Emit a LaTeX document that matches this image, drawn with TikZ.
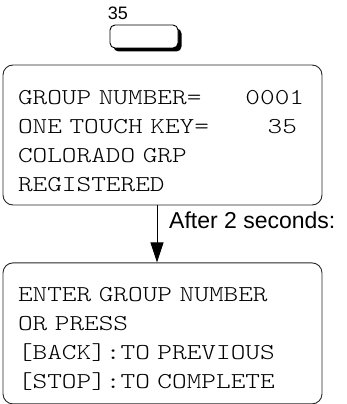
\documentclass[tikz,border=0pt]{standalone}
\usepackage{fontspec}
\usepackage{tikz}
\usetikzlibrary{arrows.meta,positioning,shadows}
\setmainfont{Liberation Sans}
\newfontfamily\lcdfont[FakeStretch=1.23]{lmmonolt10-regular.otf}
\newcommand\lcdsetup{\lcdfont\fontsize{22.7}{29}\selectfont
  \fontdimen2\font=\fontcharwd\font`0 \fontdimen3\font=0pt \fontdimen4\font=0pt
  \spaceskip=\fontcharwd\font`0 \xspaceskip=\spaceskip}
\newcommand\blanks[1]{\phantom{#1}}
\tikzset{
  lcd/.style    ={rectangle, rounded corners=10pt, draw=black!85, line width=0.9pt,
                  align=left, text width=289pt, minimum width=319pt, inner sep=0pt,
                  font=\lcdsetup, execute at begin node={\rule{0pt}{26pt}}},
  keycap/.style ={rectangle, rounded corners=5pt, draw=black, line width=0.9pt, fill=white,
                  minimum width=68pt, minimum height=23pt, inner sep=0pt,
                  drop shadow={shadow xshift=3.5pt, shadow yshift=-3.5pt, fill=black, opacity=1}},
  keylbl/.style ={font=\fontsize{18}{20}\selectfont, inner sep=0pt},
  flow/.style   ={-{Triangle[length=20pt,width=13pt]}, line width=0.9pt},
  lbl/.style    ={font=\fontsize{23}{26}\selectfont, inner sep=0pt},
}
\begin{document}
\begin{tikzpicture}[x=1pt,y=1pt]
    \useasboundingbox (0,0) rectangle (346,-404);
    % nodes
    \node[keycap] (key) at (144,-36.5) {};
    \node[keylbl, anchor=base west] (keynum) at ([xshift=-2pt,yshift=5pt]key.north west) {35};
    \node[lcd, minimum height=140pt] (reg) at (162.5,-135)
       {GROUP NUMBER=\blanks{000}0001\\ONE TOUCH KEY=\blanks{0000}35\\COLORADO GRP\\REGISTERED};
    \node[lcd, minimum height=141pt, below=57pt of reg] (enter)
       {ENTER GROUP NUMBER\\OR PRESS\\{}[BACK]:TO PREVIOUS\\{}[STOP]:TO COMPLETE};

    % flows
    \draw[flow] ([xshift=-5.5pt]reg.south) -- ([xshift=-5.5pt]enter.north);
    \node[lbl, anchor=base west] (wait) at ([xshift=6.5pt,yshift=-23pt]reg.south)
       {After 2 seconds:};
  \end{tikzpicture}
\end{document}
